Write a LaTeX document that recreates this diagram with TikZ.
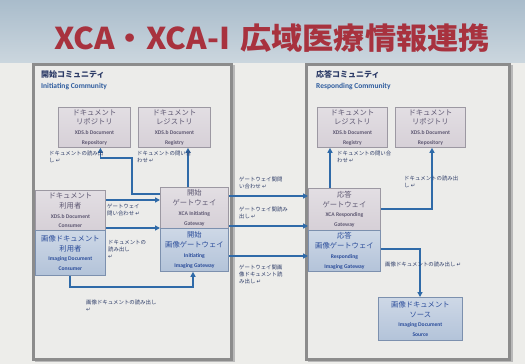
\documentclass[tikz,border=0pt]{standalone}
\usepackage{fontspec}
\setmainfont{Carlito}
\newfontfamily\cjk{Noto Sans CJK JP}
\newfontfamily\dv{DejaVu Sans}
\usetikzlibrary{arrows.meta}
\definecolor{bgc}{HTML}{EDEDEA}
\definecolor{bandA}{HTML}{A9BCCB}
\definecolor{bandB}{HTML}{CBD6DE}
\definecolor{titlec}{HTML}{A8323E}
\definecolor{framec}{HTML}{8C8C8C}
\definecolor{framefill}{HTML}{ECECEA}
\definecolor{xdsfill}{HTML}{D6D0D7}
\definecolor{xdsdraw}{HTML}{9C98A2}
\definecolor{imgfill}{HTML}{B3C3D9}
\definecolor{imgdraw}{HTML}{7C90AE}
\definecolor{jpgray}{HTML}{5E5872}
\definecolor{navy}{HTML}{2B3A66}
\definecolor{imgtext}{HTML}{2A4C9A}
\definecolor{arrc}{HTML}{2F6AA8}
\definecolor{commc}{HTML}{2E5C9E}
\newcommand{\ret}{{\dv\char"21B5}}
\tikzset{
  frame/.style={draw=framec, line width=2.6pt, fill=framefill},
  shadowbox/.style={fill=gray!55, draw=none},
  xdsbox/.style={draw=xdsdraw, line width=0.8pt, top color=xdsfill!70!white, bottom color=xdsfill, anchor=north west, inner sep=0pt, align=center, text=jpgray, font=\cjk\fontsize{7.3}{9.8}\selectfont},
  imgbox/.style={draw=imgdraw, line width=0.8pt, top color=imgfill!65!white, bottom color=imgfill, anchor=north west, inner sep=0pt, align=center, text=imgtext, font=\cjk\fontsize{7.3}{9.8}\selectfont},
  lbl/.style={anchor=north west, inner sep=0pt, align=left, text=navy, font=\cjk\fontsize{5.4}{6.8}\selectfont},
  arr/.style={draw=arrc, line width=1.5pt, -{Triangle[length=5pt,width=5pt]}},
}
\newcommand{\en}[1]{{\rmfamily\bfseries\fontsize{5.6}{9.8}\selectfont #1}}
\begin{document}
\begin{tikzpicture}[x=1pt,y=-1pt]
\useasboundingbox (0,0) rectangle (525,364);
% background
\fill[bgc] (0,0) rectangle (525,364);
\shade[top color=bandA, bottom color=bandB] (0,0) rectangle (525,62);
% title
\node[text=titlec, font=\cjk\bfseries\fontsize{30}{32}\selectfont, inner sep=0pt, xscale=1.04] (title) at (272,38) {XCA・XCA-I\hspace{10pt}広域医療情報連携};
% frames
\fill[shadowbox] (35,65) rectangle (235,362);
\node[frame, anchor=north west, minimum width=198, minimum height=295, inner sep=0pt] (frameL) at (32,63) {};
\fill[shadowbox] (308,65) rectangle (513,362);
\node[frame, anchor=north west, minimum width=203, minimum height=295, inner sep=0pt] (frameR) at (305,63) {};
% community titles
\node[anchor=north west, inner sep=0pt, align=left, text=navy, font=\cjk\bfseries\fontsize{8}{10}\selectfont] (ctL) at (41,70) {開始コミュニティ};
\node[anchor=north west, inner sep=0pt, text=commc, font=\bfseries\fontsize{7.5}{9}\selectfont] (ceL) at (41,83) {Initiating Community};
\node[anchor=north west, inner sep=0pt, align=left, text=navy, font=\cjk\bfseries\fontsize{8}{10}\selectfont] (ctR) at (316,70) {応答コミュニティ};
\node[anchor=north west, inner sep=0pt, text=commc, font=\bfseries\fontsize{7.5}{9}\selectfont] (ceR) at (316,83) {Responding Community};
% initiating community boxes
\node[xdsbox, minimum width=72, minimum height=40] (repL) at (58,107) {ドキュメント\\リポジトリ\\\en{XDS.b Document}\\\en{Repository}};
\node[xdsbox, minimum width=72, minimum height=40] (regL) at (138,107) {ドキュメント\\レジストリ\\\en{XDS.b Document}\\\en{Registry}};
\node[xdsbox, minimum width=70, minimum height=40] (conL) at (35,190) {ドキュメント\\利用者\\\en{XDS.b Document}\\\en{Consumer}};
\node[imgbox, minimum width=70, minimum height=45] (iconL) at (35,230) {画像ドキュメント\\利用者\\\en{Imaging Document}\\\en{Consumer}};
\node[xdsbox, minimum width=68, minimum height=41] (gwI) at (160,187) {開始\\ゲートウェイ\\\en{XCA Initiating}\\\en{Gateway}};
\node[imgbox, minimum width=68, minimum height=43] (igwI) at (160,228) {開始\\画像ゲートウェイ\\\en{Initiating}\\\en{Imaging Gateway}};
% responding community boxes
\node[xdsbox, minimum width=70, minimum height=40] (regR) at (317,107) {ドキュメント\\レジストリ\\\en{XDS.b Document}\\\en{Registry}};
\node[xdsbox, minimum width=70, minimum height=40] (repR) at (395,107) {ドキュメント\\リポジトリ\\\en{XDS.b Document}\\\en{Repository}};
\node[xdsbox, minimum width=72, minimum height=42] (gwR) at (308,188) {応答\\ゲートウェイ\\\en{XCA Responding}\\\en{Gateway}};
\node[imgbox, minimum width=72, minimum height=41] (igwR) at (308,230) {応答\\画像ゲートウェイ\\\en{Responding}\\\en{Imaging Gateway}};
\node[imgbox, minimum width=84, minimum height=43] (srcR) at (378,297) {画像ドキュメント\\ソース\\\en{Imaging Document}\\\en{Source}};
% connectors, initiating side
\draw[arr] (gwI.west |- 0,194) -- (132,194) -- (132,158) -| ([xshift=6pt]repL.south);
\draw[arr] (gwI.north -| 188,0) -- (regL.south -| 188,0);
\draw[arr] (conL.east |- 0,200) -- (gwI.west |- 0,200);
\draw[arr] (conL.east |- 0,228) -- (gwI.west |- 0,228);
\draw[arr] (iconL.south -| 70,0) -- (70,287) -| (igwI.south -| 193,0);
% connectors between communities
\draw[arr] (gwI.east |- 0,196) -- (gwR.west |- 0,196);
\draw[arr] (gwI.east |- 0,226) -- (gwR.west |- 0,226);
\draw[arr] (igwI.east |- 0,256) -- (igwR.west |- 0,256);
% connectors, responding side
\draw[arr] (gwR.north -| 330,0) -- (regR.south -| 330,0);
\draw[arr] (gwR.east |- 0,209) -| (repR.south -| 432,0);
\draw[arr] (igwR.east |- 0,249) -| (srcR.north -| 420,0);
% labels
\node[lbl] (l1) at (49,151) {ドキュメントの読み出\\し \ret};
\node[lbl] (l2) at (137,151) {ドキュメントの問い合\\わせ \ret};
\node[lbl] (l3) at (107,204) {ゲートウェイ\\問い合わせ \ret};
\node[lbl] (l4) at (108,240) {ドキュメントの\\読み出し\\\ret};
\node[lbl] (l5) at (86,300) {画像ドキュメントの読み出し\\\ret};
\node[lbl] (m1) at (239,177) {ゲートウェイ間問\\い合わせ \ret};
\node[lbl] (m2) at (239,207) {ゲートウェイ間読み\\出し \ret};
\node[lbl] (m3) at (239,265) {ゲートウェイ間画\\像ドキュメント読\\み出し \ret};
\node[lbl] (r1) at (337,151) {ドキュメントの問い合\\わせ \ret};
\node[lbl] (r2) at (404,176) {ドキュメントの読み出\\し \ret};
\node[lbl] (r3) at (385,262) {画像ドキュメントの読み出し \ret};
\end{tikzpicture}
\end{document}
